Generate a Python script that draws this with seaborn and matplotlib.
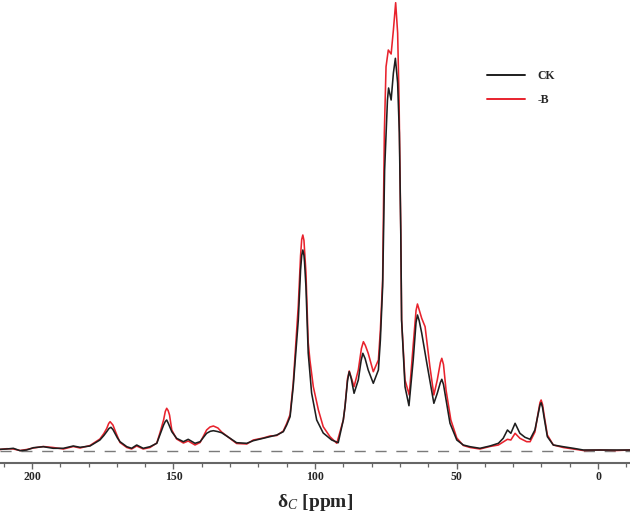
import numpy as np
import pandas as pd
import matplotlib
matplotlib.use("Agg")
import matplotlib.pyplot as plt
import seaborn as sns
from matplotlib.ticker import MultipleLocator
from matplotlib.lines import Line2D

# ---- data ----
ck_ppm = [211.3, 208.9, 206.6, 204.2, 201.9, 199.5, 196.0, 192.5, 188.9, 185.4, 183.0, 179.5,
          176.0, 174.6, 173.6, 172.8, 172.1, 171.4, 170.7, 169.8, 168.9, 166.5, 164.8, 163.0,
          160.7, 158.3, 155.9, 154.8, 153.5, 152.9, 152.4, 151.8, 151.2, 150.6, 148.9, 146.5,
          144.8, 142.4, 140.6, 138.3, 137.0, 135.9, 134.5, 133.0, 130.0,
          127.7, 124.1, 121.8, 118.3, 115.9, 113.5, 111.2, 110.0, 108.8, 107.7, 106.7, 105.9,
          105.1, 104.7, 104.3, 103.9, 103.7, 103.2, 102.4, 101.2, 99.4, 97.1, 94.1, 91.8, 90.0,
          89.4, 88.5, 87.9, 87.2,
          86.2, 84.7, 83.7, 83.1, 82.3, 81.2, 79.4, 77.6, 76.9, 76.1, 75.8, 75.4, 74.4, 74.0, 73.1,
          72.3, 71.6, 70.8, 70.2, 69.7, 69.4, 68.2, 66.8, 65.3, 64.3, 63.8, 63.2, 62.3, 60.5, 58.0,
          56.8, 55.7, 55.2, 54.6, 53.7, 52.3, 49.9, 47.6, 45.2, 41.7, 38.2, 35.2, 33.5, 32.0,
          30.8, 29.3, 27.6, 25.8, 24.0, 22.3, 21.1, 20.5, 20.1, 19.6, 19.1, 17.9, 15.8, 12.3,
          8.7, 5.2, -0.7, -6.6, -11.3]
ck_int = [1.2, 1.5, 2.2, -0.2, 0.5, 2.8, 3.8, 2.2, 2.2, 4.5, 3.2, 4.5,
          10.5, 15.0, 18.8, 22.0, 23.2, 21.0, 17.2, 12.5, 8.8, 3.8, 2.2, 5.5,
          2.2, 3.8, 7.2, 15.5, 25.5, 29.0, 30.5, 27.0, 23.0, 18.8, 12.2, 8.8,
          11.2, 7.2, 8.8, 17.2, 19.2, 19.8, 19.0, 17.8, 12.2,
          7.8, 7.2, 9.8, 12.2, 13.8, 15.5, 18.8, 25.5, 33.8, 63.8, 100.5, 130.5,
          180.5, 195.0, 200.5, 195.0, 188.5, 163.8, 97.5, 57.5, 30.5, 17.5, 10.5, 7.8, 30.5,
          43.8, 70.0, 78.8, 72.0,
          57.2, 70.5, 90.0, 97.2, 92.0, 80.5, 67.2, 80.5, 110.5, 163.8, 210.5, 280.5, 350.5, 362.5, 350.5,
          377.5, 392.2, 367.5, 317.5, 220.5, 130.5, 63.8, 44.8, 90.5, 128.0, 135.5, 130.0, 117.5, 87.5, 47.2,
          57.2, 68.0, 71.2, 66.0, 50.5, 27.2, 10.5, 5.5, 3.8, 2.2, 4.5, 7.2, 12.2, 20.5,
          17.2, 27.2, 17.2, 13.2, 11.2, 20.5, 37.2, 45.5, 47.8, 43.0, 33.8, 13.8, 5.5, 3.8,
          2.2, 0.5, 0.5, 0.5, 0.5]

b_ppm = [211.3, 208.9, 206.6, 204.2, 201.9, 199.5, 196.0, 192.5, 188.9, 185.4, 183.0, 179.5,
         176.0, 174.6, 173.6, 172.9, 172.4, 171.4, 170.3, 168.9, 166.5, 164.8, 163.0, 160.7,
         158.3, 155.9, 154.8, 153.5, 152.9, 152.4, 151.9, 151.4, 150.6, 148.9, 146.5, 144.8,
         142.4, 140.6, 138.3, 137.1, 135.9, 134.3, 133.0, 130.0, 127.7, 124.1, 121.8, 118.3,
         115.9, 113.5, 111.2, 110.0, 108.8, 107.7, 106.7, 105.9, 105.1, 104.7, 104.3, 103.9,
         103.7, 103.2, 102.4, 101.8, 100.6, 98.8,
         97.1, 94.7, 92.3, 90.0, 89.4, 88.5, 87.9, 87.2, 86.2, 84.7, 83.6, 82.9, 82.2, 81.2, 79.4,
         77.6, 76.9, 76.1, 75.9, 75.5, 74.9, 74.1, 73.1, 72.3, 71.5, 70.8, 70.3, 69.7, 69.4, 68.2,
         66.7, 65.3, 64.3, 63.8, 63.2, 62.3, 61.1, 59.4, 58.0, 56.8, 55.7, 55.2, 54.6, 53.7,
         52.0, 49.9, 47.6, 45.2, 41.7, 38.2,
         35.2, 33.5, 32.0, 30.8, 29.3, 27.6, 25.2, 24.0, 22.3, 21.1, 20.5, 20.1, 19.6, 19.1,
         17.9, 15.8, 12.3, 8.7, 5.2, -0.7, -6.6, -11.3]
b_int = [1.0, 1.8, 1.5, 0.0, 1.0, 2.5, 4.0, 3.0, 1.5, 4.0, 2.5, 5.0,
         11.5, 17.0, 22.0, 27.0, 28.8, 25.5, 17.5, 8.0, 3.0, 1.5, 4.5, 1.5,
         3.0, 7.5, 17.5, 30.5, 39.0, 42.2, 40.0, 35.5, 20.5, 11.5, 7.5, 9.5,
         5.5, 8.0, 20.5, 23.5, 24.5, 22.5, 18.5, 12.0, 7.0, 6.5, 10.5, 12.5,
         14.5, 15.0, 19.5, 27.0, 36.0, 67.0, 110.0, 145.0, 195.0, 211.0, 215.5, 210.0,
         200.5, 178.0, 108.0, 90.5, 63.8, 40.5,
         23.8, 13.8, 7.2, 30.5, 43.8, 72.0, 79.5, 73.0, 63.8, 80.5, 102.0, 108.8, 105.0, 97.2, 78.8,
         90.5, 120.5, 170.5, 220.5, 317.5, 383.8, 400.5, 396.5, 420.5, 447.8, 417.5, 350.5, 220.5, 130.5, 70.5,
         55.5, 105.5, 140.0, 146.5, 141.0, 132.2, 123.8, 83.8, 55.5, 70.5, 88.0, 92.2, 86.0, 60.5,
         30.5, 12.5, 5.0, 3.0, 1.5, 4.0,
         5.5, 8.5, 11.2, 10.5, 17.2, 12.2, 8.8, 8.8, 18.5, 38.5, 48.0, 50.5, 46.0, 36.5,
         15.5, 5.5, 3.0, 1.5, 0.0, 0.5, 0.0, 0.5]

series_names = ["CK", "-B"]
series_colors = {"CK": "#1e1e1e", "-B": "#e8232d"}
tick_values = [200, 150, 100, 50, 0]

df = pd.concat([
    pd.DataFrame({"ppm": ck_ppm, "intensity": ck_int, "sample": "CK"}),
    pd.DataFrame({"ppm": b_ppm, "intensity": b_int, "sample": "-B"}),
], ignore_index=True)

# ---- plot ----
sns.set_theme(style="white")
plt.rcParams['font.family'] = ['Liberation Serif', 'DejaVu Serif']
plt.rcParams['mathtext.fontset'] = 'custom'
plt.rcParams['mathtext.rm'] = 'Liberation Serif'
plt.rcParams['mathtext.it'] = 'Liberation Serif:italic'
plt.rcParams['mathtext.bf'] = 'Liberation Serif:bold'

fig = plt.figure(figsize=(6.3, 5.16), dpi=100)
ax = fig.add_axes([0.0, 1 - 462.5 / 516, 1.0, 462.5 / 516])

sns.lineplot(data=df, x="ppm", y="intensity", hue="sample",
             hue_order=["-B", "CK"], palette=series_colors,
             estimator=None, linewidth=1.15, ax=ax, legend=False)

ax.axhline(0, color="#7a7a7a", linewidth=1.0, dashes=(8, 7), zorder=0)

ax.set_xlim(211.3, -11.3)
ax.set_ylim(-12.0, 450.5)

for s in ["top", "left", "right"]:
    ax.spines[s].set_visible(False)
ax.spines["bottom"].set_color("#666666")
ax.spines["bottom"].set_linewidth(1.5)

ax.set_yticks([])
ax.xaxis.set_minor_locator(MultipleLocator(10))
ax.set_xticks(tick_values)
ax.set_xticklabels([str(v) for v in tick_values])
ax.tick_params(axis="x", which="major", direction="out", length=4.3, width=1.0,
               color="#666666", pad=2, labelsize=8.5, bottom=True)
ax.tick_params(axis="x", which="minor", direction="out", length=2.9, width=0.9,
               color="#666666", bottom=True)
for lbl in ax.get_xticklabels():
    lbl.set_fontweight("bold")

ax.set_ylabel("")
ax.set_xlabel(r"δ$_{\mathit{C}}$ [ppm]", fontsize=14, fontweight="bold", labelpad=6)

handles = [Line2D([], [], color=series_colors[n], linewidth=1.4) for n in series_names]
leg = ax.legend(handles, series_names, loc="upper left",
                bbox_to_anchor=(487 / 630, 1 - 70 / 462.5), frameon=False,
                borderaxespad=0, borderpad=0, handlelength=3.2, handletextpad=1.1,
                labelspacing=1.03, prop={"family": "Liberation Serif", "weight": "bold", "size": 8.5})

fig.savefig("out.png", dpi=100)
